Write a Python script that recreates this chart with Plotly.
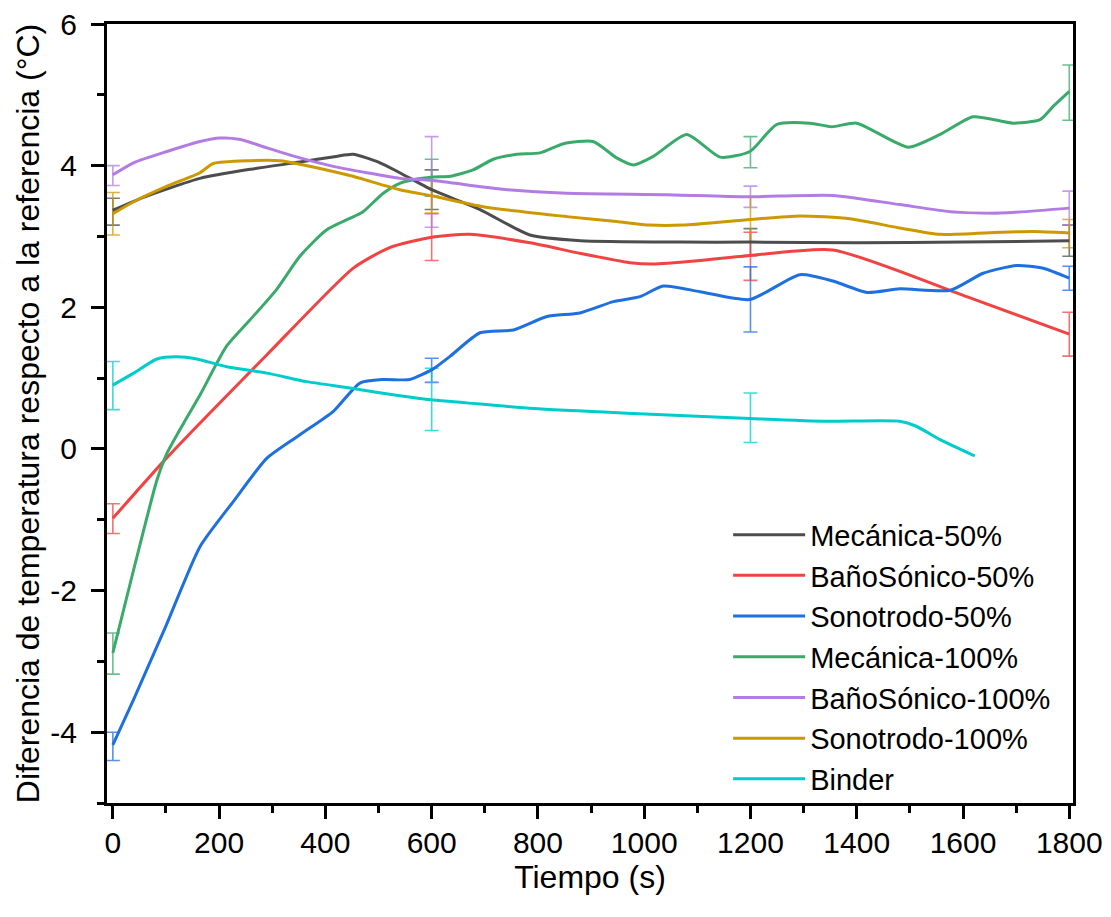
import plotly.graph_objects as go

# ---------------- data ----------------
mec50_x = [0, 60, 164, 260, 352, 420, 452, 500, 540, 600, 691, 785, 880, 1068, 1200, 1400, 1600, 1800]
mec50_y = [3.37, 3.56, 3.82, 3.95, 4.05, 4.13, 4.16, 4.05, 3.90, 3.66, 3.38, 3.02, 2.94, 2.92, 2.92, 2.91, 2.92, 2.94]

bano50_x = [0, 101, 290, 452, 520, 600, 672, 785, 880, 973, 1017, 1105, 1199, 1355, 1607, 1800]
bano50_y = [-0.98, -0.13, 1.33, 2.55, 2.84, 2.99, 3.03, 2.91, 2.76, 2.63, 2.61, 2.66, 2.73, 2.81, 2.15, 1.62]

sono50_x = [0, 39, 101, 164, 227, 290, 352, 415, 465, 509, 559, 603, 635, 691, 754, 817, 879, 942, 992, 1036,
            1105, 1199, 1293, 1355, 1419, 1481, 1576, 1638, 1701, 1751, 1800]
sono50_y = [-4.18, -3.54, -2.48, -1.38, -0.74, -0.13, 0.20, 0.53, 0.93, 0.98, 0.98, 1.13, 1.31, 1.64, 1.68, 1.87, 1.92, 2.08, 2.15, 2.30,
            2.22, 2.11, 2.46, 2.37, 2.21, 2.26, 2.24, 2.48, 2.59, 2.55, 2.41]

mec100_x = [0, 39, 83, 102, 133, 164, 214, 258, 308, 352, 402, 453, 471, 509, 540, 572, 603, 635, 678, 716, 760, 804,
            848, 904, 948, 980, 1017, 1080, 1143, 1199, 1249, 1312, 1353, 1400, 1497, 1557, 1619, 1694, 1745, 1770, 1800]
mec100_y = [-2.88, -1.71, -0.44, -0.06, 0.36, 0.76, 1.45, 1.82, 2.25, 2.72, 3.09, 3.28, 3.35, 3.61, 3.75, 3.81, 3.84, 3.85, 3.94, 4.09, 4.16, 4.18,
            4.31, 4.34, 4.11, 4.01, 4.13, 4.44, 4.12, 4.20, 4.58, 4.60, 4.55, 4.60, 4.26, 4.44, 4.69, 4.60, 4.65, 4.84, 5.05]

bano100_x = [0, 39, 102, 164, 202, 240, 290, 352, 415, 478, 540, 603, 729, 854, 1042, 1193, 1355, 1481, 1576, 1670, 1800]
bano100_y = [3.87, 4.04, 4.20, 4.34, 4.39, 4.37, 4.25, 4.11, 3.99, 3.90, 3.82, 3.79, 3.67, 3.61, 3.59, 3.56, 3.58, 3.45, 3.35, 3.33, 3.40]

sono100_x = [0, 39, 102, 164, 189, 258, 315, 352, 446, 540, 603, 697, 854, 948, 1011, 1073, 1199, 1293, 1387, 1481, 1557, 1670, 1732, 1800]
sono100_y = [3.32, 3.49, 3.71, 3.90, 4.03, 4.07, 4.07, 4.02, 3.86, 3.66, 3.57, 3.42, 3.28, 3.21, 3.16, 3.16, 3.24, 3.29, 3.25, 3.12, 3.03, 3.06, 3.07, 3.05]

binder_x = [0, 39, 83, 120, 158, 214, 290, 365, 446, 540, 603, 666, 791, 980, 1199, 1343, 1481, 1512, 1557, 1622]
binder_y = [0.90, 1.07, 1.27, 1.30, 1.27, 1.16, 1.07, 0.95, 0.86, 0.75, 0.69, 0.65, 0.57, 0.50, 0.43, 0.39, 0.39, 0.32, 0.13, -0.10]

err_x = [0, 600, 1200, 1800]
mec50_c = [3.35, 3.66, 2.92, 2.94];   mec50_e = [0.19, 0.28, 0.19, 0.22]
bano50_c = [-0.985, 2.99, 2.72, 1.62]; bano50_e = [0.21, 0.33, 0.34, 0.31]
sono50_c = [-4.2, 1.11, 2.11, 2.41];  sono50_e = [0.20, 0.17, 0.46, 0.17]
mec100_c = [-2.89, 3.83, 4.19, 5.03]; mec100_e = [0.29, 0.26, 0.22, 0.39]
bano100_c = [3.86, 3.77, 3.56, 3.40]; bano100_e = [0.14, 0.64, 0.15, 0.24]
sono100_c = [3.32, 3.56, 3.24, 3.04]; sono100_e = [0.30, 0.23, 0.32, 0.20]
binder_err_x = [0, 600, 1200]
binder_c = [0.895, 0.70, 0.44];      binder_e = [0.34, 0.44, 0.35]

x_ticks = [0, 200, 400, 600, 800, 1000, 1200, 1400, 1600, 1800]
y_ticks = [-4, -2, 0, 2, 4, 6]
y_ticktext = ["-4", "-2", "0", "2", "4", "6"]

names = ["Mecánica-50%", "BañoSónico-50%", "Sonotrodo-50%", "Mecánica-100%",
         "BañoSónico-100%", "Sonotrodo-100%", "Binder"]
colors = ["#4D4D4D", "#F24343", "#1E6FE0", "#3AAA6A", "#B27CE2", "#CC9900", "#00CCCC"]
err_colors = ["rgba(77,77,77,0.75)", "rgba(242,67,67,0.75)", "rgba(30,111,224,0.75)",
              "rgba(58,170,106,0.75)", "rgba(178,124,226,0.75)", "rgba(204,153,0,0.75)",
              "rgba(0,204,204,0.75)"]

series = [
    (mec50_x, mec50_y, err_x, mec50_c, mec50_e),
    (bano50_x, bano50_y, err_x, bano50_c, bano50_e),
    (sono50_x, sono50_y, err_x, sono50_c, sono50_e),
    (mec100_x, mec100_y, err_x, mec100_c, mec100_e),
    (bano100_x, bano100_y, err_x, bano100_c, bano100_e),
    (sono100_x, sono100_y, err_x, sono100_c, sono100_e),
    (binder_x, binder_y, binder_err_x, binder_c, binder_e),
]

FONT = "Arial, Liberation Sans, sans-serif"

fig = go.Figure()
for i, (xs, ys, ex, ec, ee) in enumerate(series):
    fig.add_trace(go.Scatter(
        x=ex, y=ec, mode="markers", showlegend=False, hoverinfo="skip",
        marker=dict(size=1, color="rgba(0,0,0,0)"),
        error_y=dict(type="data", array=ee, visible=True, color=err_colors[i],
                     thickness=1.6, width=7),
    ))
for i, (xs, ys, ex, ec, ee) in enumerate(series):
    fig.add_trace(go.Scatter(
        x=xs, y=ys, mode="lines", name=names[i],
        line=dict(color=colors[i], width=3, shape="spline", smoothing=0.6),
    ))

# page body has an 8px default margin; figure sized to fit the 1111x917 window
fig.update_layout(
    width=1095, height=901,
    margin=dict(l=99, r=30, t=16, b=106),
    paper_bgcolor="white", plot_bgcolor="white",
    font=dict(family=FONT, size=30, color="black"),
    showlegend=True,
    legend=dict(x=0.643, y=0.377, xanchor="left", yanchor="top",
                bgcolor="rgba(0,0,0,0)", borderwidth=0,
                font=dict(family=FONT, size=29, color="black"),
                itemwidth=72, tracegroupgap=0),
)
fig.update_xaxes(
    range=[-11, 1807], tickmode="array", tickvals=x_ticks,
    ticks="outside", ticklen=13, tickwidth=3, tickcolor="black",
    minor=dict(ticks="outside", ticklen=7, tickwidth=3, tickcolor="black", dtick=100, tick0=0),
    showline=True, linewidth=3, linecolor="black", mirror=True,
    showgrid=False, zeroline=False, automargin=False,
    title=dict(text="Tiempo (s)", font=dict(family=FONT, size=32), standoff=0),
    tickfont=dict(family=FONT, size=30),
    ticklabelstandoff=-2, ticklabeloverflow="allow",
)
fig.update_yaxes(
    range=[-5, 6], tickmode="array", tickvals=y_ticks, ticktext=y_ticktext,
    ticks="outside", ticklen=13, tickwidth=3, tickcolor="black",
    minor=dict(ticks="outside", ticklen=7, tickwidth=3, tickcolor="black", dtick=1, tick0=0),
    showline=True, linewidth=3, linecolor="black", mirror=True,
    showgrid=False, zeroline=False, automargin=False,
    title=dict(text="Diferencia de temperatura respecto a la referencia (°C)",
               font=dict(family=FONT, size=32), standoff=2),
    tickfont=dict(family=FONT, size=30),
    ticklabelstandoff=8, ticklabeloverflow="allow",
)

fig.write_html("out.html")
